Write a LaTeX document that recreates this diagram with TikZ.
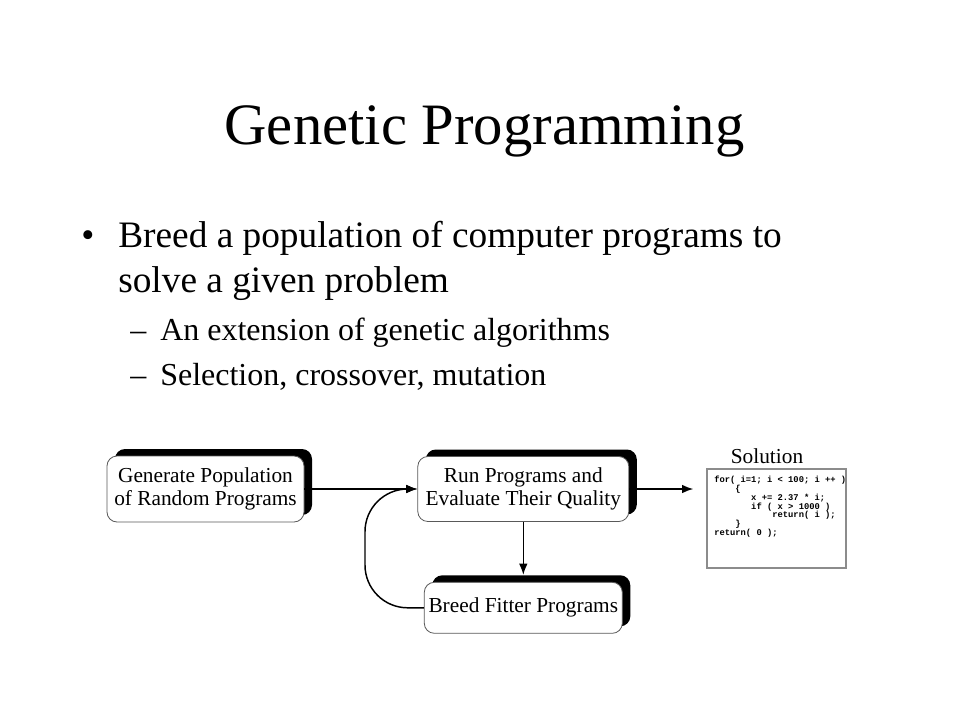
\documentclass[tikz,border=0pt]{standalone}
\usepackage{fontspec}
\setmainfont{Liberation Serif}
\setsansfont{Liberation Sans}
\setmonofont{Liberation Mono}
\usetikzlibrary{positioning,shadows,arrows.meta}

\begin{document}
\begin{tikzpicture}
[
x=0.75pt, y=-0.75pt,
heading/.style={anchor=base, inner sep=0pt, font=\fontsize{44}{50}\selectfont},
item/.style={anchor=base west, inner sep=0pt, font=\fontsize{28}{33}\selectfont},
subitem/.style={anchor=base west, inner sep=0pt, font=\fontsize{24}{28}\selectfont},
stage/.style={rectangle, rounded corners=7.5pt, draw=black!65, line width=0.6pt, fill=white, align=center, inner sep=2pt, font=\fontsize{16}{17.25}\selectfont, general shadow={fill=black, shadow xshift=6pt, shadow yshift=5.25pt}},
result/.style={rectangle, draw=black!45, line width=1pt, minimum width=104.25pt, minimum height=74.25pt},
code/.style={anchor=north west, inner sep=0pt, align=left, font=\fontsize{6.6}{6.6}\selectfont\ttfamily\bfseries},
flow/.style={-{Latex[length=8.5pt,width=6.5pt]}, line width=1.1pt}
]
\useasboundingbox[fill=white] (0,0) rectangle (960,720);

%Nodes
\node[heading]  (title)     at (484.5,145)  {Genetic Programming};
\node[item]     (bul)       at (81,248)     {•};
\node[item]     (line1)     at (118,248)    {Breed a population of computer programs to};
\node[item]     (line2)     at (118,292)    {solve a given problem};
\node[subitem]  (dash1)     at (130,340)    {–};
\node[subitem]  (sub1)      at (160,340)    {An extension of genetic algorithms};
\node[subitem]  (dash2)     at (130,385)    {–};
\node[subitem]  (sub2)      at (160,385)    {Selection, crossover, mutation};

\node[stage, minimum width=147.75pt, minimum height=49.5pt]  (gen)   at (205.5,489)            {Generate Population\\of Random Programs};
\node[stage, minimum width=158.25pt, minimum height=48.75pt] (run)   [right=84.75pt of gen]    {Run Programs and\\Evaluate Their Quality};
\node[stage, minimum width=148.5pt, minimum height=38.25pt]  (breed) [below=45pt of run]       {Breed Fitter Programs};

\node[result]   (sol)       at (776.5,518.5) {};
\node[font=\fontsize{16}{17}\selectfont] (sollabel) at (767,456) {Solution};
\node[code]     (prog)      at (714,476)    {for( i=1; i < 100; i ++ )\\
\hspace*{2.4em}\{\\
\hspace*{4.2em}x += 2.37 * i;\\
\hspace*{4.2em}if ( x > 1000 )\\
\hspace*{6.6em}return( i );\\
\hspace*{2.4em}\}\\
return( 0 );};

\coordinate     (back)      at (365,489);

%Lines
\draw[flow] (gen.east) -- (gen.east -| run.west);
\draw[flow, shorten >=9.75pt] (run.east) -- (run.east -| sol.west);
\draw[flow, shorten >=5.25pt] (run.south) -- (breed.north);
\draw[flow] (breed.west) [rounded corners=32pt] -| (back) [rounded corners=20pt] -- (back -| run.west);

\end{tikzpicture}
\end{document}
